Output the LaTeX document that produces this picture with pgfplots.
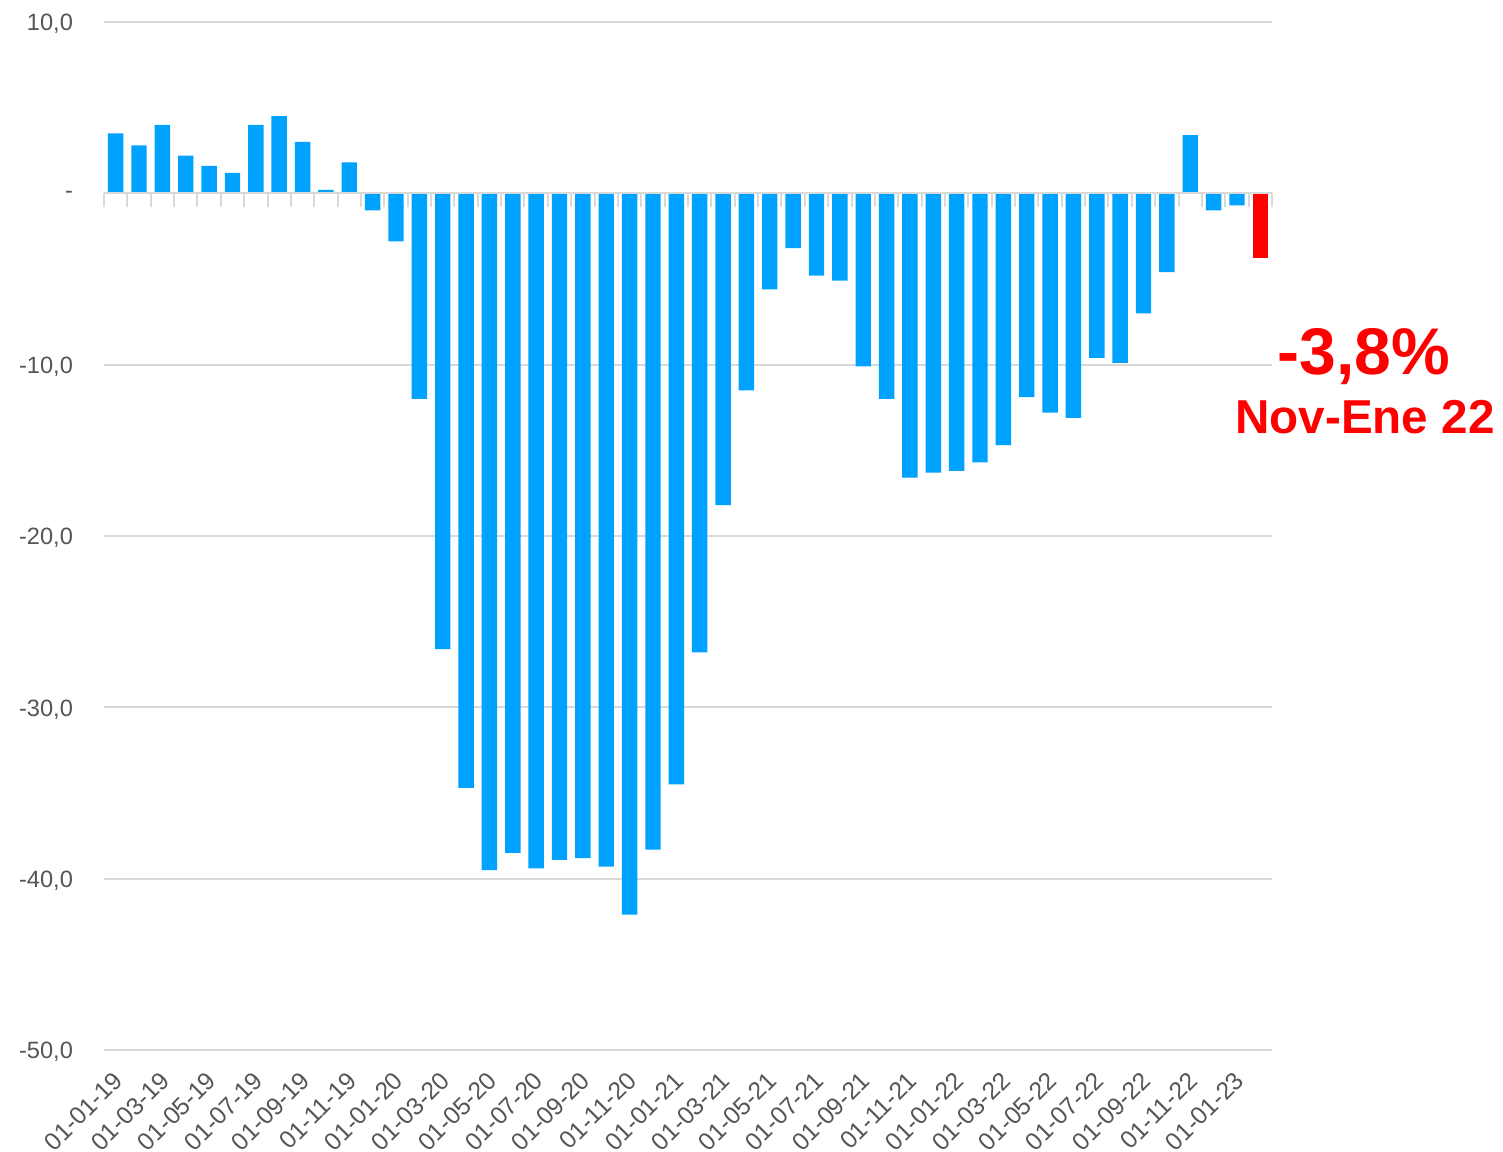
\documentclass[border=0pt]{standalone}
\usepackage{pgfplots}
\pgfplotsset{compat=1.18}
\usepackage{fontspec}
\setmainfont{Liberation Sans}
\definecolor{barblue}{HTML}{00A2FF}
\definecolor{barred}{HTML}{FF0000}
\definecolor{gridgray}{HTML}{D9D9D9}
\definecolor{labgray}{HTML}{555555}
\pgfplotstableread{
x y
0 3.5
1 2.8
2 4.0
3 2.2
4 1.6
5 1.2
6 4.0
7 4.5
8 3.0
9 0.2
10 1.8
11 -1.0
12 -2.8
13 -12.0
14 -26.6
15 -34.7
16 -39.5
17 -38.5
18 -39.4
19 -38.9
20 -38.8
21 -39.3
22 -42.1
23 -38.3
24 -34.5
25 -26.8
26 -18.2
27 -11.5
28 -5.6
29 -3.2
30 -4.8
31 -5.1
32 -10.1
33 -12.0
34 -16.6
35 -16.3
36 -16.2
37 -15.7
38 -14.7
39 -11.9
40 -12.8
41 -13.1
42 -9.6
43 -9.9
44 -7.0
45 -4.6
46 3.4
47 -1.0
48 -0.7
}\bluedata
\pgfplotstableread{
x y
49 -3.8
}\reddata
\begin{document}
\begin{tikzpicture}
\begin{axis}[
  name=main,
  scale only axis,
  width=584pt, height=514pt,
  xmin=-0.5, xmax=49.5,
  ymin=-50, ymax=10,
  axis line style={draw=none},
  tick style={draw=none},
  clip=false,
  ybar, bar width=0.66, bar shift=0pt,
  ymajorgrids,
  grid style={gridgray, line width=1pt},
  ytick={-50,-40,-30,-20,-10,0,10},
  yticklabels={{-50,0},{-40,0},{-30,0},{-20,0},{-10,0},{-},{10,0}},
  yticklabel style={font=\fontsize{11.8}{13}\selectfont, text=labgray, anchor=east, xshift=-12pt, yshift=-1pt},
  xtick={0,2,...,48},
  xticklabels={01-01-19,01-03-19,01-05-19,01-07-19,01-09-19,01-11-19,
    01-01-20,01-03-20,01-05-20,01-07-20,01-09-20,01-11-20,
    01-01-21,01-03-21,01-05-21,01-07-21,01-09-21,01-11-21,
    01-01-22,01-03-22,01-05-22,01-07-22,01-09-22,01-11-22,01-01-23},
  xticklabel style={font=\fontsize{12.3}{14}\selectfont, text=labgray, rotate=45, anchor=north east, inner sep=0pt, xshift=-8.3pt, yshift=-5.7pt},
  major tick length=0pt,
]
\addplot[fill=barblue, draw=none] table[x=x,y=y] {\bluedata};
\addplot[fill=barred, draw=none] table[x=x,y=y] {\reddata};
\node[text=barred, font=\fontsize{33}{36}\bfseries\selectfont] at (axis cs:53.44,-9.52) {-3,8\%};
\node[text=barred, font=\fontsize{23.8}{26}\bfseries\selectfont] at (axis cs:53.48,-13.08) {Nov-Ene 22};
\end{axis}
\begin{axis}[
  scale only axis,
  width=584pt, height=514pt,
  xmin=-0.5, xmax=49.5,
  ymin=-50, ymax=10,
  axis x line=middle, axis y line=none,
  axis line style={-, draw=gridgray, line width=1pt},
  xtick={-0.5,0.5,...,49.5},
  xticklabels={},
  ytick=\empty,
  tick align=outside,
  major tick length=7pt,
  tick style={gridgray, line width=1pt},
]
\end{axis}
\pgfresetboundingbox
\path ([shift={(-52pt,-51pt)}]main.south west) rectangle ([shift={(115.5pt,11pt)}]main.north east);
\end{tikzpicture}
\end{document}
